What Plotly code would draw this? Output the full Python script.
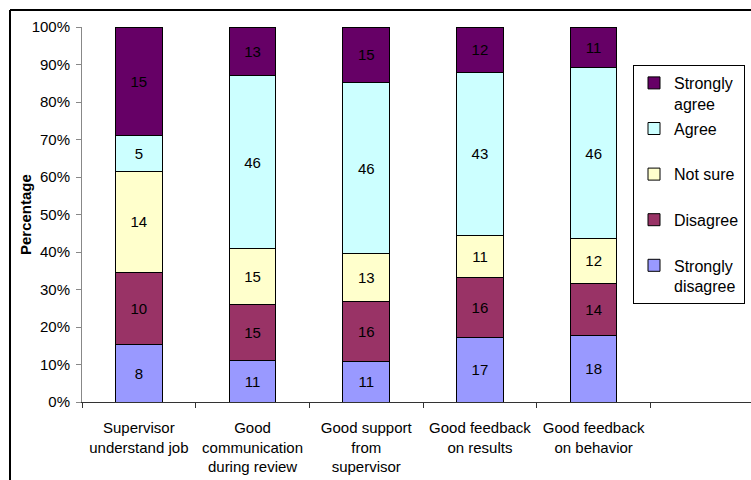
import plotly.graph_objects as go

# Survey items (x categories)
categories = [
    "Supervisor<br>understand job",
    "Good<br>communication<br>during review",
    "Good support<br>from<br>supervisor",
    "Good feedback<br>on results",
    "Good feedback<br>on behavior",
]

# Response counts per item
strongly_disagree = [8, 11, 11, 17, 18]
disagree = [10, 15, 16, 16, 14]
not_sure = [14, 15, 13, 11, 12]
agree = [5, 46, 46, 43, 46]
strongly_agree = [15, 13, 15, 12, 11]

series_names = ["Strongly<br>disagree", "Disagree<br> ", "Not sure<br> ", "Agree<br> ", "Strongly<br>agree"]
series_values = [strongly_disagree, disagree, not_sure, agree, strongly_agree]
series_colors = ["#9999FF", "#993366", "#FFFFCC", "#CCFFFF", "#660066"]

FONT = "Liberation Sans, Arial, sans-serif"

W, H = 751, 480
L, R, T, B = 82, 0, 27, 78
plot_w = W - L - R
plot_h = H - T - B
slot_px = 113.7  # width of one category slot

fig = go.Figure()
n = len(series_names)
for i, (name, vals, col) in enumerate(zip(series_names, series_values, series_colors)):
    fig.add_trace(go.Bar(
        x=categories,
        y=vals,
        name=name,
        legendgroup=f"g{i}",
        legendrank=n - i,
        marker=dict(color=col, line=dict(color="#000000", width=1)),
        width=0.41,
        text=[str(v) for v in vals],
        textposition="inside",
        insidetextanchor="middle",
        textangle=0,
        textfont=dict(family=FONT, size=15, color="#000000"),
        hoverinfo="skip",
    ))

fig.update_layout(
    width=W, height=H,
    margin=dict(l=L, r=R, t=T, b=B, pad=0),
    paper_bgcolor="white",
    plot_bgcolor="white",
    barmode="stack",
    barnorm="percent",
    uniformtext=dict(mode=False),
    font=dict(family=FONT, size=15, color="#000000"),
    showlegend=True,
    legend=dict(
        x=(633 - L) / plot_w, y=(H - B - 65) / plot_h,
        xanchor="left", yanchor="top",
        traceorder="grouped",
        tracegroupgap=1,
        valign="top",
        bgcolor="white",
        bordercolor="#000000", borderwidth=1,
        font=dict(family=FONT, size=16, color="#000000"),
        itemwidth=30,
    ),
    xaxis=dict(
        type="category",
        range=[-0.5, -0.5 + plot_w / slot_px],
        showline=True, linecolor="#333333", linewidth=1,
        ticks="outside", tickson="boundaries", ticklen=5, tickcolor="#333333",
        showgrid=False, zeroline=False,
        tickfont=dict(family=FONT, size=15, color="#000000"),
        ticklabelstandoff=12,
        fixedrange=True,
    ),
    yaxis=dict(
        range=[0, 100],
        dtick=10, ticksuffix="%",
        showline=True, linecolor="#888888", linewidth=1,
        ticks="outside", ticklen=5, tickcolor="#888888",
        showgrid=False, zeroline=False,
        tickfont=dict(family=FONT, size=15, color="#000000"),
        ticklabelstandoff=3,
        fixedrange=True,
    ),
)

# Y axis title
fig.add_annotation(
    xref="paper", yref="paper",
    x=(25 - L) / plot_w, y=(H - B - 215) / plot_h,
    text="<b>Percentage</b>", textangle=-90, showarrow=False,
    font=dict(family=FONT, size=15, color="#000000"),
    xanchor="center", yanchor="middle",
)

# Chart frame (left and top edges)
fx = (10 - L) / plot_w
fy = (H - B - 10) / plot_h
fig.add_shape(type="line", xref="paper", yref="paper",
              x0=fx, x1=fx, y0=fy, y1=-0.5,
              line=dict(color="#000000", width=2))
fig.add_shape(type="line", xref="paper", yref="paper",
              x0=fx, x1=1.2, y0=fy, y1=fy,
              line=dict(color="#000000", width=2))

fig.write_html("out.html")
